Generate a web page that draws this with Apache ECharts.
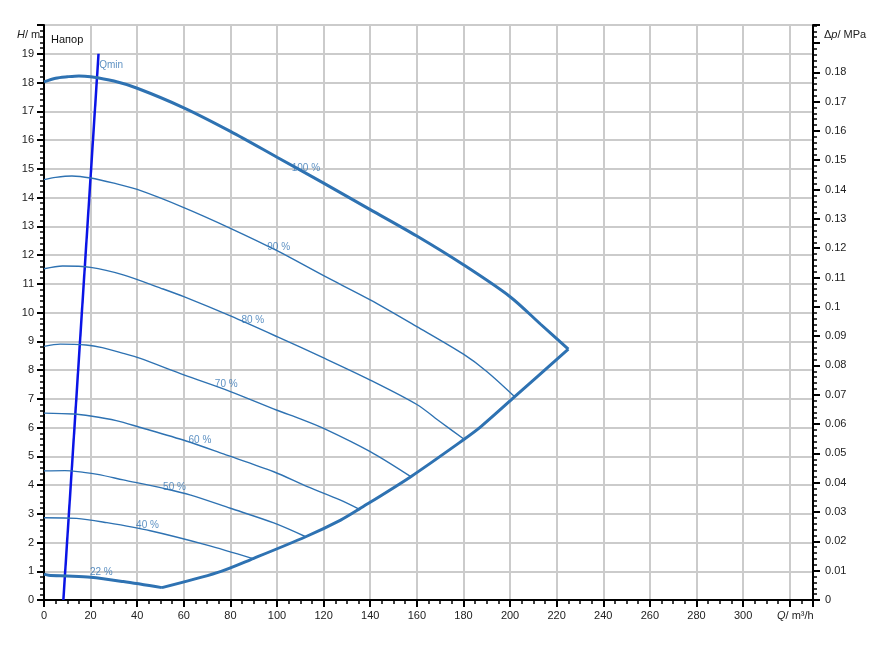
<!DOCTYPE html>
<html>
<head>
<meta charset="utf-8">
<title>Напор</title>
<script src="https://cdn.jsdelivr.net/npm/echarts@6/dist/echarts.min.js"></script>
<style>
  html, body { margin: 0; padding: 0; background: #fff; }
  #chart { width: 879px; height: 649px; }
</style>
</head>
<body>
<div id="chart"></div>
<script>
// pump curves, [Q m3/h, H m]
const curve100 = [[0, 18.02], [5, 18.15], [10, 18.2], [15, 18.23], [20, 18.2], [30, 18.05], [40, 17.8], [60, 17.12], [80, 16.3], [100, 15.4], [120, 14.5], [140, 13.58], [160, 12.66], [180, 11.66], [200, 10.55], [213, 9.6], [225, 8.73]]
const curve90 = [[0, 14.62], [5, 14.7], [12, 14.75], [20, 14.68], [30, 14.5], [40, 14.28], [60, 13.65], [80, 12.93], [100, 12.15], [120, 11.28], [140, 10.44], [160, 9.51], [180, 8.55], [190, 7.95], [202, 7.07]]
const curve80 = [[0, 11.52], [8, 11.62], [20, 11.57], [34, 11.31], [50, 10.85], [60, 10.55], [80, 9.88], [100, 9.16], [120, 8.42], [140, 7.65], [160, 6.8], [170, 6.2], [180.3, 5.59]]
const curve70 = [[0, 8.82], [7, 8.9], [18, 8.87], [25, 8.78], [34, 8.58], [41, 8.41], [60, 7.83], [80, 7.25], [100, 6.6], [110, 6.3], [120, 5.97], [140, 5.16], [157.4, 4.29]]
const curve60 = [[0, 6.5], [12.6, 6.47], [20, 6.4], [31, 6.24], [41, 6.01], [61, 5.53], [77, 5.08], [98.6, 4.46], [113, 3.94], [127, 3.48], [135.2, 3.16]]
const curve50 = [[0, 4.49], [9, 4.5], [17, 4.44], [23, 4.37], [34, 4.18], [51, 3.89], [63, 3.65], [80, 3.19], [98.6, 2.68], [112.3, 2.2]]
const curve40 = [[0, 2.86], [14, 2.84], [27, 2.69], [45.6, 2.41], [70, 1.91], [89.3, 1.45]]
const curve22 = [[0, 0.9], [2, 0.86], [10, 0.835], [20, 0.79], [34, 0.64], [50.6, 0.43]]
const boundary = [[50.6, 0.43], [74.3, 0.95], [90, 1.45], [112.3, 2.2], [127.3, 2.78], [135.2, 3.16], [157.4, 4.29], [180.3, 5.59], [187.5, 6.03], [202, 7.07], [225, 8.73]]
const qmin = [[8.3, 0], [23.4, 19]]

// speed labels
const curveLabels = ['100 %', '90 %', '80 %', '70 %', '60 %', '50 %', '40 %', '22 %', 'Qmin']
const labelQ = [112.4, 100.7, 89.6, 78.2, 66.9, 56.0, 44.4, 24.6, 28.8]
const labelH = [15.03, 12.27, 9.73, 7.49, 5.54, 3.91, 2.6, 0.96, 18.59]

// axis ticks
const qMax = 330
const hMax = 20
const mPerMPa = 0.00980665

const blue = '#2e72b2'
const font = 'Liberation Sans, Arial, sans-serif'

const thin = (data) => ({
  type: 'line',
  data,
  smooth: 0.3,
  symbol: 'none',
  silent: true,
  lineStyle: { color: blue, width: 1.4 },
})
const thick = (data) => ({
  type: 'line',
  data,
  smooth: 0.3,
  symbol: 'none',
  silent: true,
  lineStyle: { color: blue, width: 3 },
})

const chart = echarts.init(document.getElementById('chart'))

chart.setOption({
  animation: false,
  backgroundColor: '#ffffff',
  textStyle: { fontFamily: font },
  grid: {
    left: 44,
    right: 66,
    top: 25,
    bottom: 49,
    show: true,
    borderColor: '#000',
    borderWidth: 2,
  },
  xAxis: {
    type: 'value',
    min: 0,
    max: qMax,
    interval: 20,
    axisLine: { show: true, onZero: false, lineStyle: { color: '#000', width: 2 } },
    axisTick: { show: true, length: 7, lineStyle: { color: '#000', width: 2 } },
    minorTick: { show: true, splitNumber: 4, length: 4, lineStyle: { color: '#000', width: 1.5 } },
    splitLine: { show: true, lineStyle: { color: '#cbcbcb', width: 2 } },
    axisLabel: {
      color: '#222',
      fontSize: 11,
      margin: 10,
      fontFamily: font,
      formatter: (v) => (v > 300 ? '' : String(v)),
    },
  },
  yAxis: [
    {
      type: 'value',
      min: 0,
      max: hMax,
      interval: 1,
      position: 'left',
      axisLine: { show: true, onZero: false, lineStyle: { color: '#000', width: 2 } },
      axisTick: { show: true, length: 7, lineStyle: { color: '#000', width: 2 } },
      minorTick: { show: true, splitNumber: 5, length: 4, lineStyle: { color: '#000', width: 1.5 } },
      splitLine: { show: true, lineStyle: { color: '#cbcbcb', width: 2 } },
      axisLabel: {
        color: '#222',
        fontSize: 11,
        margin: 10,
        fontFamily: font,
        formatter: (v) => (v >= 20 ? '' : String(v)),
      },
    },
    {
      type: 'value',
      min: 0,
      max: hMax * mPerMPa,
      interval: 0.01,
      position: 'right',
      alignTicks: false,
      axisLine: { show: true, onZero: false, lineStyle: { color: '#000', width: 2 } },
      axisTick: { show: true, length: 7, lineStyle: { color: '#000', width: 2 } },
      minorTick: { show: true, splitNumber: 5, length: 4, lineStyle: { color: '#000', width: 1.5 } },
      splitLine: { show: false },
      axisLabel: {
        color: '#222',
        fontSize: 11,
        margin: 12,
        fontFamily: font,
        formatter: (v) => (v > 0.185 ? '' : String(+v.toFixed(2))),
      },
    },
  ],
  graphic: [
    {
      type: 'text',
      left: 17,
      top: 29,
      style: {
        text: '{i|H}/ m',
        rich: { i: { fontStyle: 'italic', fontSize: 11, fontFamily: font } },
        fontSize: 11,
        fontFamily: font,
        fill: '#222',
      },
    },
    {
      type: 'text',
      left: 824,
      top: 29,
      style: {
        text: 'Δ{i|p}/ MPa',
        rich: { i: { fontStyle: 'italic', fontSize: 11, fontFamily: font } },
        fontSize: 11,
        fontFamily: font,
        fill: '#222',
      },
    },
    {
      type: 'text',
      left: 777,
      top: 610,
      style: {
        text: '{i|Q}/ m³/h',
        rich: { i: { fontStyle: 'italic', fontSize: 11, fontFamily: font } },
        fontSize: 11,
        fontFamily: font,
        fill: '#222',
      },
    },
    {
      type: 'text',
      left: 51,
      top: 34,
      style: { text: 'Напор', fontSize: 11, fontFamily: font, fill: '#111' },
    },
  ],
  series: [
    {
      type: 'line',
      data: qmin,
      symbol: 'none',
      silent: true,
      lineStyle: { color: '#0a14e6', width: 2.5 },
    },
    thick(curve100),
    thin(curve90),
    thin(curve80),
    thin(curve70),
    thin(curve60),
    thin(curve50),
    thin(curve40),
    thick(curve22),
    thick(boundary),
    {
      type: 'scatter',
      symbolSize: 0,
      silent: true,
      data: curveLabels.map((name, i) => ({ name, value: [labelQ[i], labelH[i]] })),
      label: {
        show: true,
        position: 'inside',
        formatter: (p) => p.name,
        color: '#3476b4',
        fontSize: 10,
        fontFamily: font,
      },
    },
  ],
})
</script>
</body>
</html>
